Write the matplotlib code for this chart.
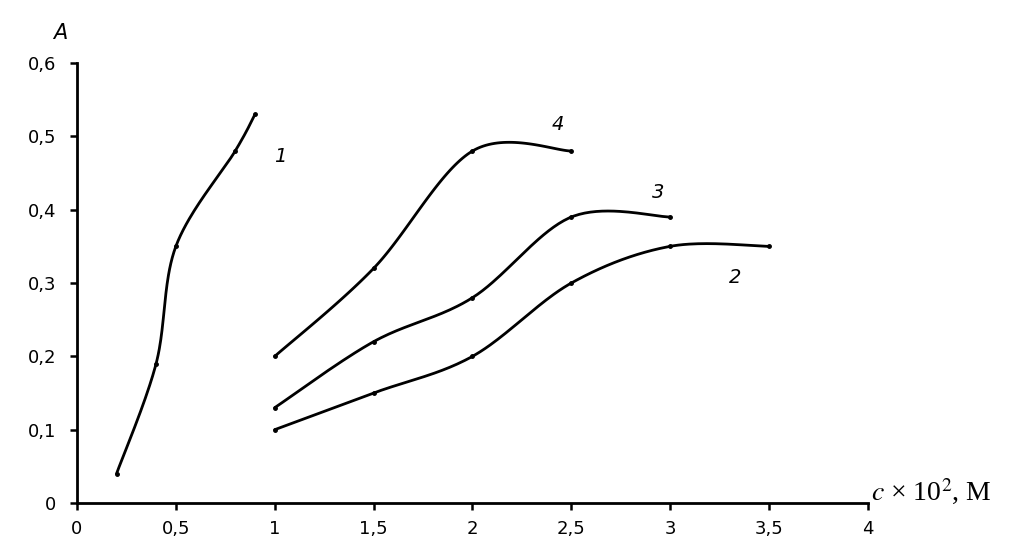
import numpy as np
import matplotlib.pyplot as plt

# data
x1 = [0.2, 0.4, 0.5, 0.8, 0.9]
y1 = [0.04, 0.19, 0.35, 0.48, 0.53]
x2 = [1, 1.5, 2, 2.5, 3, 3.5]
y2 = [0.10, 0.15, 0.20, 0.30, 0.35, 0.35]
x3 = [1, 1.5, 2, 2.5, 3]
y3 = [0.13, 0.22, 0.28, 0.39, 0.39]
x4 = [1, 1.5, 2, 2.5]
y4 = [0.20, 0.32, 0.48, 0.48]
curve_labels = ['1', '2', '3', '4']
label_pos = [(1.03, 0.472), (3.33, 0.307), (2.94, 0.424), (2.43, 0.516)]

xticks = [0, 0.5, 1, 1.5, 2, 2.5, 3, 3.5, 4]
yticks = [0, 0.1, 0.2, 0.3, 0.4, 0.5, 0.6]

SX, SY = 197.75, 733.0  # px per unit, used only to shape the smoothing


def smooth(xs, ys, n=40):
    # excel-like smoothed line: bezier segments, catmull-rom control points
    p = np.column_stack([np.array(xs) * SX, np.array(ys) * SY])
    out = [p[0]]
    for i in range(len(p) - 1):
        p0 = p[i - 1] if i > 0 else p[i]
        p3 = p[i + 2] if i + 2 < len(p) else p[i + 1]
        c1 = p[i] + (p[i + 1] - p0) / 6
        c2 = p[i + 1] - (p3 - p[i]) / 6
        t = np.linspace(0, 1, n)[1:, None]
        seg = ((1 - t) ** 3) * p[i] + 3 * ((1 - t) ** 2) * t * c1 + 3 * (1 - t) * t ** 2 * c2 + t ** 3 * p[i + 1]
        out.extend(seg)
    out = np.array(out)
    return out[:, 0] / SX, out[:, 1] / SY


fig = plt.figure(figsize=(10.16, 5.58), dpi=100)
ax = fig.add_axes([77 / 1016, 55 / 558, 791 / 1016, 440 / 558])

for xs, ys in [(x1, y1), (x2, y2), (x3, y3), (x4, y4)]:
    sx, sy = smooth(xs, ys)
    ax.plot(sx, sy, color='black', lw=2.0, solid_capstyle='round')
    ax.plot(xs, ys, 'o', color='black', ms=2.5)

for lab, (lx, ly) in zip(curve_labels, label_pos):
    ax.text(lx, ly, lab, fontsize=14, style='italic', ha='center', va='center',
            family='DejaVu Sans')

ax.set_xlim(0, 4)
ax.set_ylim(0, 0.6)
ax.set_xticks(xticks)
ax.set_yticks(yticks)
ax.set_xticklabels([('%g' % v).replace('.', ',') for v in xticks])
ax.set_yticklabels([('%g' % v).replace('.', ',') for v in yticks])
ax.tick_params(axis='both', direction='out', length=5, width=1.8, labelsize=13, color='black')
ax.tick_params(axis='x', pad=7)
ax.tick_params(axis='y', pad=10)
for s in ['top', 'right']:
    ax.spines[s].set_visible(False)
for s in ['left', 'bottom']:
    ax.spines[s].set_linewidth(2)

fig.text(60 / 1016, 1 - 33 / 558, 'A', fontsize=15, style='italic', ha='center', va='center')
fig.text(871 / 1016, 1 - 492 / 558, r'$c$ × 10$^2$, M', fontsize=20, ha='left', va='center',
         family='Liberation Serif', math_fontfamily='stix')

fig.savefig('out.png', dpi=100)
